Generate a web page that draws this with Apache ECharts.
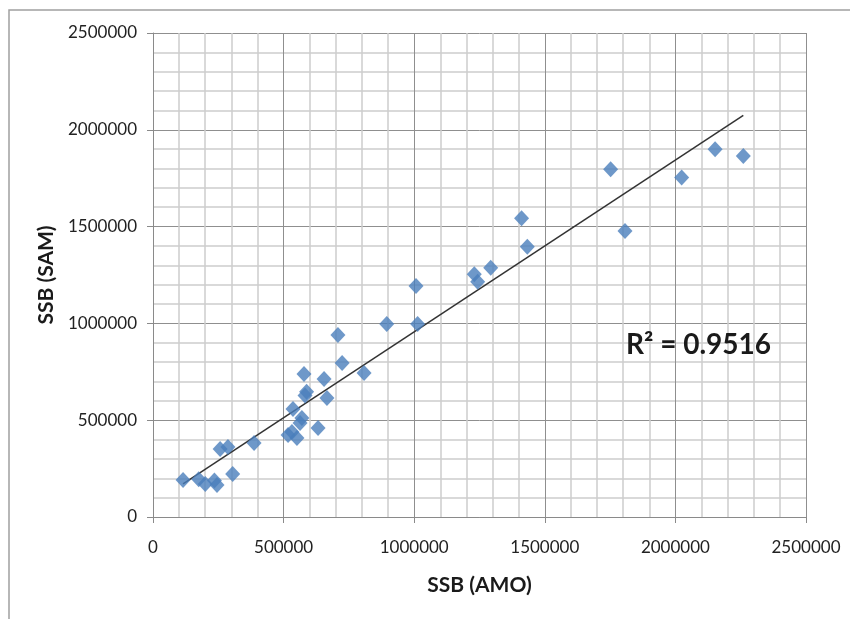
<!DOCTYPE html>
<html>
<head>
<meta charset="utf-8">
<script src="https://cdn.jsdelivr.net/npm/echarts@6/dist/echarts.min.js"></script>
<style>html,body{margin:0;padding:0;background:#fff}#c{width:850px;height:619px}</style>
</head>
<body>
<div id="c"></div>
<script>
// SSB estimates: AMO (x) vs SAM (y)
const ssbAMO = [115000,175000,200000,235000,245000,305000,257000,287000,387000,517000,532000,551000,563000,570000,536000,632000,588000,582000,578000,655000,666000,708000,724000,808000,895000,1013000,1007000,1230000,1243000,1293000,1411000,1433000,1752000,1807000,2024000,2152000,2260000];
const ssbSAM = [191000,195000,170000,188000,165000,222000,351000,362000,382000,424000,439000,408000,486000,511000,558000,460000,647000,627000,739000,713000,615000,940000,795000,744000,997000,997000,1193000,1254000,1215000,1288000,1543000,1396000,1796000,1477000,1753000,1899000,1865000];
const xTicks = [0,500000,1000000,1500000,2000000,2500000];
const yTicks = [0,500000,1000000,1500000,2000000,2500000];
const xTitle = 'SSB (AMO)';
const yTitle = 'SSB (SAM)';
const r2Label = 'R² = 0.9516';

// least-squares linear trend from the data
const n = ssbAMO.length;
let sx=0, sy=0, sxx=0, sxy=0;
for (let i=0;i<n;i++){ sx+=ssbAMO[i]; sy+=ssbSAM[i]; sxx+=ssbAMO[i]*ssbAMO[i]; sxy+=ssbAMO[i]*ssbSAM[i]; }
const slope = (n*sxy - sx*sy)/(n*sxx - sx*sx);
const icpt = (sy - slope*sx)/n;
const xmin = Math.min(...ssbAMO), xmax = Math.max(...ssbAMO);
const trend = [[xmin, icpt+slope*xmin],[xmax, icpt+slope*xmax]];

const FONT = 'Lato';
const chart = echarts.init(document.getElementById('c'), null, {renderer:'canvas'});
function axisCommon(ticks, isX){
  return {
    type:'value', min:ticks[0], max:ticks[ticks.length-1], interval:ticks[1]-ticks[0],
    name: isX ? xTitle : yTitle,
    nameLocation:'middle',
    nameGap: isX ? 58 : 96,
    nameTextStyle:{fontFamily:FONT,fontWeight:'bold',fontSize:21,color:'#1a1a1a'},
    axisLine:{show:true,onZero:false,lineStyle:{color:'#8a8a8a',width:1}},
    axisTick:{show:true,inside:false,length:6,lineStyle:{color:'#8a8a8a'}},
    axisLabel:{fontFamily:FONT,fontSize:17,color:'#222',margin:isX?22:16,formatter:v=>String(v)},
    splitLine:{show:true,lineStyle:{color:'#8f8f8f',width:1}},
    minorTick:{show:false,splitNumber:5},
    minorSplitLine:{show:true,lineStyle:{color:'#cdcdcd',width:1.5}}
  };
}
chart.setOption({
  animation:false,
  backgroundColor:'#fff',
  grid:{left:153,right:44,top:33,bottom:102,containLabel:false},
  xAxis: axisCommon(xTicks,true),
  yAxis: axisCommon(yTicks,false),
  graphic:[
    {type:'rect',shape:{x:9,y:10,width:900,height:700},style:{fill:'none',stroke:'#a0a0a0',lineWidth:1.5},silent:true},
    {type:'text',left:626,top:331,style:{text:r2Label,font:'bold 28px Lato',fill:'#1a1a1a'},z:10}
  ],
  series:[
    {type:'line',data:trend,symbol:'none',lineStyle:{color:'#333',width:1.5},z:3},
    {type:'scatter',data:ssbAMO.map((x,i)=>[x,ssbSAM[i]]),symbol:'diamond',symbolSize:[15,16],
     itemStyle:{color:'#4a7ebb'},z:4}
  ]
});
</script>
</body>
</html>
